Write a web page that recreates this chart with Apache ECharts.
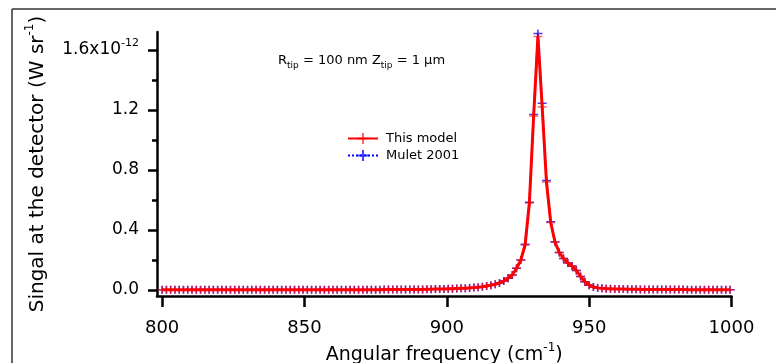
<!DOCTYPE html>
<html>
<head>
<meta charset="utf-8">
<script src="https://cdn.jsdelivr.net/npm/echarts@6/dist/echarts.min.js"></script>
<style>
  html, body { margin: 0; padding: 0; background: #fff; }
  #chart { width: 776px; height: 363px; }
</style>
</head>
<body>
<div id="chart"></div>
<script>
// angular frequency grid (cm^-1)
var freq = [
  800,801.5,803,804.5,806,807.5,809,810.5,812,813.5,
  815,816.5,818,819.5,821,822.5,824,825.5,827,828.5,
  830,831.5,833,834.5,836,837.5,839,840.5,842,843.5,
  845,846.5,848,849.5,851,852.5,854,855.5,857,858.5,
  860,861.5,863,864.5,866,867.5,869,870.5,872,873.5,
  875,876.5,878,879.5,881,882.5,884,885.5,887,888.5,
  890,891.5,893,894.5,896,897.5,899,900.5,902,903.5,
  905,906.5,908,909.5,911,912.5,914,915.5,917,918.5,
  920,921.5,923,924.5,926,927.5,929,930.5,932,933.5,
  935,936.5,938,939.5,941,942.5,944,945.5,947,948.5,
  950,951.5,953,954.5,956,957.5,959,960.5,962,963.5,
  965,966.5,968,969.5,971,972.5,974,975.5,977,978.5,
  980,981.5,983,984.5,986,987.5,989,990.5,992,993.5,
  995,996.5,998,999.5
]
// signal, units of 1e-12 W sr^-1
var thisModel = [
  0.001,0.001,0.001,0.001,0.001,0.001,0.001,0.001,0.001,0.001,
  0.001,0.001,0.001,0.001,0.001,0.001,0.001,0.001,0.001,0.001,
  0.001,0.001,0.001,0.001,0.001,0.001,0.001,0.001,0.001,0.001,
  0.002,0.002,0.002,0.002,0.002,0.002,0.002,0.002,0.002,0.002,
  0.002,0.002,0.002,0.002,0.002,0.002,0.002,0.002,0.002,0.002,
  0.002,0.002,0.003,0.003,0.003,0.003,0.003,0.003,0.004,0.004,
  0.004,0.004,0.005,0.005,0.006,0.006,0.007,0.008,0.009,0.010,
  0.011,0.012,0.014,0.016,0.019,0.022,0.026,0.031,0.038,0.047,
  0.060,0.078,0.100,0.145,0.200,0.300,0.580,1.160,1.690,1.220,
  0.720,0.450,0.320,0.250,0.210,0.180,0.160,0.130,0.090,0.055,
  0.032,0.020,0.014,0.011,0.009,0.008,0.007,0.006,0.006,0.005,
  0.005,0.005,0.004,0.004,0.004,0.004,0.003,0.003,0.003,0.003,
  0.003,0.003,0.003,0.002,0.002,0.002,0.002,0.002,0.002,0.002,
  0.002,0.002,0.002,0.002
]
var mulet2001 = [
  0.001,0.001,0.001,0.001,0.001,0.001,0.001,0.001,0.001,0.001,
  0.001,0.001,0.001,0.001,0.001,0.001,0.001,0.001,0.001,0.001,
  0.001,0.001,0.001,0.001,0.001,0.001,0.001,0.001,0.001,0.001,
  0.002,0.002,0.002,0.002,0.002,0.002,0.002,0.002,0.002,0.002,
  0.002,0.002,0.002,0.002,0.002,0.002,0.002,0.002,0.002,0.002,
  0.002,0.002,0.003,0.003,0.003,0.003,0.003,0.003,0.004,0.004,
  0.004,0.004,0.005,0.005,0.006,0.006,0.007,0.008,0.009,0.010,
  0.011,0.012,0.014,0.016,0.019,0.022,0.026,0.031,0.038,0.047,
  0.060,0.078,0.100,0.145,0.200,0.305,0.585,1.170,1.710,1.245,
  0.730,0.455,0.320,0.250,0.210,0.180,0.160,0.130,0.090,0.055,
  0.032,0.020,0.014,0.011,0.009,0.008,0.007,0.006,0.006,0.005,
  0.005,0.005,0.004,0.004,0.004,0.004,0.003,0.003,0.003,0.003,
  0.003,0.003,0.003,0.002,0.002,0.002,0.002,0.002,0.002,0.002,
  0.002,0.002,0.002,0.002
]
var xTicks = [800, 850, 900, 950, 1000]
var yTicks = [0, 0.4, 0.8, 1.2, 1.6]
var yTickLabels = ['0.0', '0.4', '0.8', '1.2', '1.6x10^-12']
var yMinorTicks = [0.2, 0.6, 1.0, 1.4]

var FONT = 'DejaVu Sans'
var cross = 'path://M0,3.3H8V4.7H0Z M3.3,0H4.7V8H3.3Z'

function pairs (ys) {
  return freq.map(function (f, i) { return [f, ys[i]] })
}

var chart = echarts.init(document.getElementById('chart'))
var option = {
  animation: false,
  backgroundColor: '#fff',
  grid: { left: 157, right: 44.5, top: 32, bottom: 67, outerBoundsMode: 'none', containLabel: false },
  legend: {
    orient: 'vertical',
    left: 347,
    top: 132,
    padding: 0,
    itemWidth: 30,
    itemHeight: 14,
    itemGap: 4,
    textStyle: { fontFamily: FONT, fontSize: 13, color: '#000', padding: [0, 0, 0, 3] },
    data: ['This model', 'Mulet 2001']
  },
  xAxis: {
    type: 'value',
    min: 798.2,
    max: 1000,
    name: '{n|Angular frequency (cm}{s|-1}{n|)}',
    nameLocation: 'middle',
    nameGap: 43,
    nameTextStyle: {
      rich: {
        n: { fontFamily: FONT, fontSize: 19, color: '#000', lineHeight: 26 },
        s: { fontFamily: FONT, fontSize: 12, color: '#000', verticalAlign: 'top' }
      }
    },
    axisLine: { onZero: false, lineStyle: { color: '#000', width: 2.5 } },
    axisTick: { customValues: xTicks, length: 11, lineStyle: { color: '#000', width: 2.5 } },
    axisLabel: {
      customValues: xTicks,
      margin: 23,
      fontFamily: FONT,
      fontSize: 18,
      color: '#000',
      formatter: function (v) { return String(v) }
    },
    splitLine: { show: false }
  },
  yAxis: [{
    type: 'value',
    min: -0.04,
    max: 1.72,
    name: '{n|Singal at the detector (W sr}{s|-1}{n|)}',
    nameLocation: 'middle',
    nameGap: 105,
    nameRotate: 90,
    nameTextStyle: {
      rich: {
        n: { fontFamily: FONT, fontSize: 20, color: '#000', lineHeight: 28 },
        s: { fontFamily: FONT, fontSize: 12, color: '#000', verticalAlign: 'top' }
      }
    },
    axisLine: { show: true, onZero: false, lineStyle: { color: '#000', width: 2.5 } },
    axisTick: { customValues: yTicks, length: 9, lineStyle: { color: '#000', width: 2.5 } },
    axisLabel: {
      customValues: yTicks,
      margin: 18,
      formatter: function (v) {
        var t = yTickLabels[yTicks.indexOf(Math.round(v * 10) / 10)] || ''
        var p = t.split('^')
        return p.length > 1 ? '{n|' + p[0] + '}{s|' + p[1] + '}' : '{n|' + t + '}'
      },
      rich: {
        n: { fontFamily: FONT, fontSize: 17, color: '#000', lineHeight: 24 },
        s: { fontFamily: FONT, fontSize: 11, color: '#000', verticalAlign: 'top' }
      }
    },
    splitLine: { show: false }
  }, {
    type: 'value',
    min: -0.04,
    max: 1.72,
    position: 'left',
    axisLine: { show: false, onZero: false },
    axisTick: { customValues: yMinorTicks, length: 5, lineStyle: { color: '#000', width: 2.5 } },
    axisLabel: { show: false },
    splitLine: { show: false }
  }],
  graphic: [
    { type: 'line', shape: { x1: 12, y1: 9, x2: 776, y2: 9 }, style: { stroke: '#333', lineWidth: 1.5 } },
    { type: 'line', shape: { x1: 12, y1: 9, x2: 12, y2: 363 }, style: { stroke: '#333', lineWidth: 1.5 } },
    {
      type: 'text',
      left: 278,
      top: 54,
      style: {
        text: '{n|R}{b|tip}{n| = 100 nm Z}{b|tip}{n| = 1 \u03bcm}',
        rich: {
          n: { fontFamily: FONT, fontSize: 13, fill: '#000', lineHeight: 20 },
          b: { fontFamily: FONT, fontSize: 9, fill: '#000', verticalAlign: 'bottom' }
        }
      }
    }
  ],
  series: [
    {
      name: 'Mulet 2001',
      type: 'line',
      data: pairs(mulet2001),
      symbol: cross,
      symbolSize: [9, 8],
      lineStyle: { color: '#0000ff', width: 2, type: 'dotted' },
      itemStyle: { color: '#0000ff', opacity: 0.75 },
      z: 2
    },
    {
      name: 'This model',
      type: 'line',
      data: pairs(thisModel),
      symbol: cross,
      symbolSize: [9, 8],
      lineStyle: { color: '#ff0000', width: 3 },
      itemStyle: { color: '#ff0000', opacity: 0.6 },
      z: 3
    }
  ]
}
chart.setOption(option)
</script>
</body>
</html>
